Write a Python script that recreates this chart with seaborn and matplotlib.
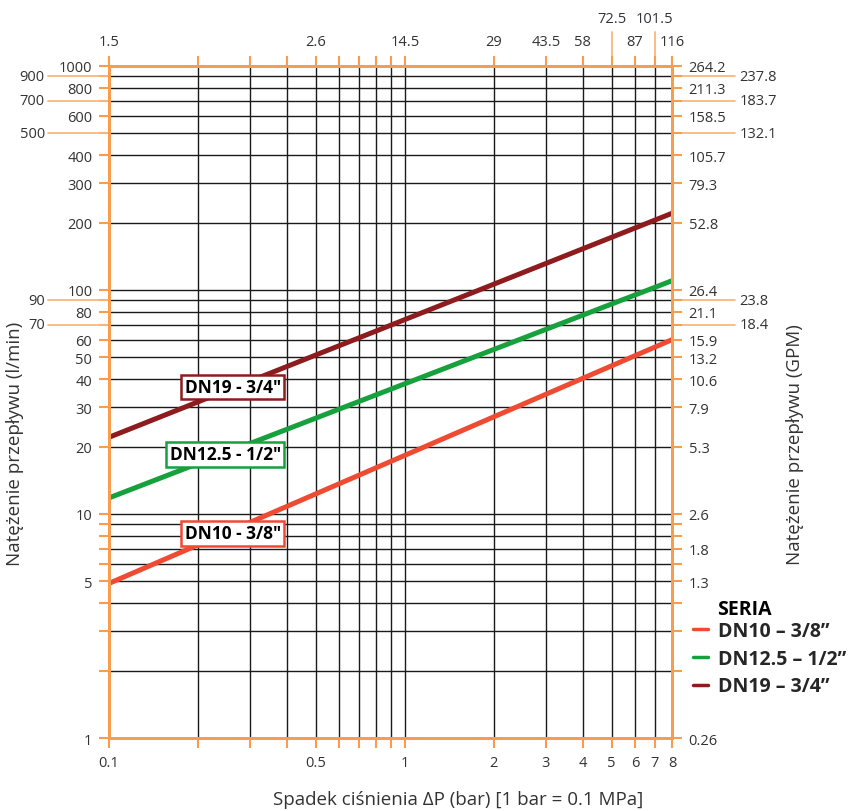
import numpy as np
import pandas as pd
import matplotlib
matplotlib.use("Agg")
import matplotlib.pyplot as plt
import matplotlib.transforms as mtransforms
from matplotlib.ticker import NullLocator
import seaborn as sns

# --- data ---
series = ["DN10 – 3/8”", "DN12.5 – 1/2”", "DN19 – 3/4”"]
box_labels = ['DN10 - 3/8"', 'DN12.5 - 1/2"', 'DN19 - 3/4"']
colors = ["#EE4B32", "#16A13D", "#8E1B1E"]
dp_bar = [0.1, 8]
flow_dn10 = [4.9, 60]
flow_dn125 = [11.8, 110]
flow_dn19 = [22.0, 220]
box_x = [0.262, 0.247, 0.262]
box_y = [8.2, 18.5, 36.9]

# left axis (l/min) and right axis (GPM)
lmin_ticks = [1, 5, 10, 20, 30, 40, 50, 60, 80, 100, 200, 300, 400, 600, 800, 1000]
gpm_ticks = [1, 5, 7, 10, 20, 30, 40, 50, 60, 80, 100, 200, 300, 400, 600, 800, 1000]
gpm_labels = ["0.26", "1.3", "1.8", "2.6", "5.3", "7.9", "10.6", "13.2", "15.9", "21.1",
              "26.4", "52.8", "79.3", "105.7", "158.5", "211.3", "264.2"]
lmin_outer = [900, 700, 500, 90, 70]
gpm_outer = ["237.8", "183.7", "132.1", "23.8", "18.4"]

# bottom axis (bar) and top axis (psi)
bar_ticks = [0.1, 0.5, 1, 2, 3, 4, 5, 6, 7, 8]
bar_labels = ["0.1", "0.5", "1", "2", "3", "4", "5", "6", "7", "8"]
psi_ticks = [0.1, 0.5, 1, 2, 3, 4, 6, 8]
psi_labels = ["1.5", "2.6", "14.5", "29", "43.5", "58", "87", "116"]
psi_outer_x = [5, 7]
psi_outer = ["72.5", "101.5"]

grid_y = [2, 3, 4, 5, 6, 7, 8, 9, 10, 20, 30, 40, 50, 60, 70, 80, 90,
          100, 200, 300, 400, 500, 600, 700, 800, 900]
grid_x = [0.2, 0.3, 0.4, 0.5, 0.6, 0.7, 0.8, 0.9, 1, 2, 3, 4, 5, 6, 7]

orange = "#F89C4E"
orange_light = "#FBB77C"
txt = "#333333"

sns.set_style("white")
plt.rcParams["font.family"] = ["Open Sans", "DejaVu Sans"]

df = pd.DataFrame({
    "dp": dp_bar * 3,
    "q": flow_dn10 + flow_dn125 + flow_dn19,
    "seria": np.repeat(series, len(dp_bar)),
})

fig = plt.figure(figsize=(8.49, 8.12), dpi=100)
ax = fig.add_axes([0.1284, 0.0899, 0.6631, 0.8276])

sns.lineplot(data=df, x="dp", y="q", hue="seria", palette=colors, linewidth=3.6,
             ax=ax, zorder=4)
ax.set_xscale("log")
ax.set_yscale("log")
ax.set_xlim(0.1, 8)
ax.set_ylim(1, 1000)
ax.set_xlabel("")
ax.set_ylabel("")

for g in grid_y:
    ax.axhline(g, color="#1a1a1a", lw=1.0, zorder=1)
for g in grid_x:
    ax.axvline(g, color="#1a1a1a", lw=1.0, zorder=1)

# every grid line gets a tick, only some get a label
yt = [1] + grid_y + [1000]
ax.set_yticks(yt, [str(v) if v in lmin_ticks else "" for v in yt])
xt = [0.1] + grid_x + [8]
ax.set_xticks(xt, [bar_labels[bar_ticks.index(v)] if v in bar_ticks else "" for v in xt])
ax.xaxis.set_minor_locator(NullLocator())
ax.yaxis.set_minor_locator(NullLocator())

ax_r = ax.twinx()
ax_r.set_yscale("log")
ax_r.set_ylim(1, 1000)
ax_r.set_yticks(yt, [gpm_labels[gpm_ticks.index(v)] if v in gpm_ticks else "" for v in yt])
ax_r.yaxis.set_minor_locator(NullLocator())

ax_t = ax.twiny()
ax_t.set_xscale("log")
ax_t.set_xlim(0.1, 8)
ax_t.set_xticks(xt, [psi_labels[psi_ticks.index(v)] if v in psi_ticks else "" for v in xt])
ax_t.xaxis.set_minor_locator(NullLocator())

for a in (ax, ax_r, ax_t):
    for s in a.spines.values():
        s.set_color(orange)
        s.set_linewidth(2.0)
    a.tick_params(which="both", direction="out", color=orange, length=7, width=1.5,
                  labelsize=10.5, labelcolor=txt, pad=5)

# extra labels pushed outside with long orange leaders
tr_y = mtransforms.blended_transform_factory(ax.transAxes, ax.transData)
for v, gl in zip(lmin_outer, gpm_outer):
    ax.plot([-0.108, 0], [v, v], transform=tr_y, color=orange_light, lw=1.3, clip_on=False)
    ax.text(-0.114, v, str(v), transform=tr_y, ha="right", va="center",
            fontsize=10.5, color=txt)
    ax.plot([1, 1.112], [v, v], transform=tr_y, color=orange_light, lw=1.3, clip_on=False)
    ax.text(1.12, v, gl, transform=tr_y, ha="left", va="center", fontsize=10.5, color=txt)

tr_x = mtransforms.blended_transform_factory(ax.transData, ax.transAxes)
for v, pl in zip(psi_outer_x, psi_outer):
    ax.plot([v, v], [1, 1.051], transform=tr_x, color=orange_light, lw=1.3, clip_on=False)
    ax.text(v, 1.07, pl, transform=tr_x, ha="center", va="center", fontsize=10.5, color=txt)

# boxed series names on the lines
for x, y, lab, c in zip(box_x, box_y, box_labels, colors):
    ax.text(x, y, lab, ha="center", va="center", fontsize=12.5, fontweight="bold",
            color="black", zorder=6,
            bbox=dict(boxstyle="square,pad=0.2", fc="white", ec=c, lw=1.8))

sns.move_legend(ax, loc="upper left", bbox_to_anchor=(1.023, 0.186), title=None,
                frameon=False, borderaxespad=0, handlelength=0.8, handletextpad=0.5,
                labelspacing=0.4, prop={"weight": "bold", "size": 14})
leg = ax.get_legend()
for h in leg.legend_handles:
    h.set_linewidth(2.5)
ax.text(1.080, 0.192, "SERIA", transform=ax.transAxes, ha="left", va="center",
        fontsize=14, fontweight="bold", color="black")

fig.text(0.54, 0.0148, "Spadek ciśnienia ΔP (bar) [1 bar = 0.1 MPa]",
         ha="center", va="center", fontsize=13.5, color=txt)
fig.text(0.018, 0.453, "Natężenie przepływu (l/min)", rotation=90,
         ha="center", va="center", fontsize=13.5, color=txt)
fig.text(0.936, 0.452, "Natężenie przepływu (GPM)", rotation=90,
         ha="center", va="center", fontsize=13.5, color=txt)

fig.savefig("out.png", dpi=100)
